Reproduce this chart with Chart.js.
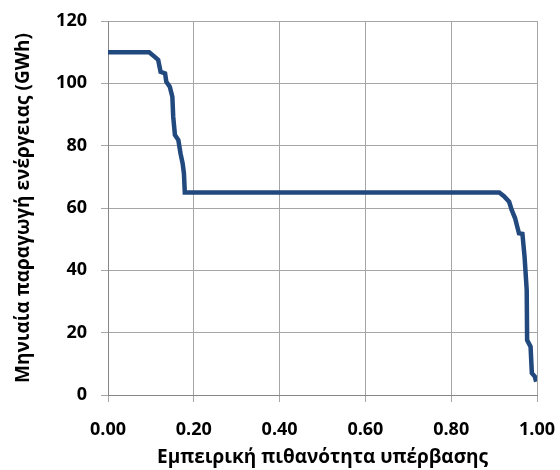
<!DOCTYPE html>
<html>
<head>
<meta charset="utf-8">
<script src="https://cdn.jsdelivr.net/npm/chart.js@4.4.0/dist/chart.umd.min.js"></script>
<style>
    body { margin: 0; background: #fff; }
</style>
</head>
<body>
<canvas id="durationChart" width="560" height="470"></canvas>
<script>
// exceedance probability vs monthly energy
var prob = [0.00, 0.096, 0.109, 0.117, 0.1225, 0.133, 0.136, 0.144, 0.150, 0.152, 0.156, 0.164, 0.169, 0.174, 0.177, 0.179, 0.185,
            0.50, 0.912, 0.923, 0.935, 0.941, 0.949, 0.954, 0.958, 0.966, 0.971, 0.976, 0.977, 0.985, 0.988, 0.995, 0.998];
var energy = [110, 110, 108.5, 107.5, 103.7, 103.2, 100.5, 98.9, 95.7, 89.3, 83.4, 81.8, 77.5, 74.3, 71.1, 65, 65,
              65, 65, 63.8, 62, 59.4, 56.7, 54, 51.9, 51.7, 44.4, 33.7, 17.6, 15.5, 7, 5.9, 4.3];

var xTitle = 'Εμπειρική πιθανότητα υπέρβασης';
var yTitle = 'Μηνιαία παραγωγή ενέργειας (GWh)';

var points = [];
for (var i = 0; i < prob.length; i++) {
    points.push({ x: prob[i], y: energy[i] });
}

var fontFamily = '"Open Sans", "DejaVu Sans", sans-serif';
var gridColor = '#a6a6a6';

var ctx = document.getElementById('durationChart');
var durationChart = new Chart(ctx, {
    type: 'scatter',
    data: {
        datasets: [
            {
                data: points,
                showLine: true,
                borderColor: '#22497e',
                borderWidth: 4.5,
                pointRadius: 0,
                tension: 0,
                fill: false
            }
        ]
    },
    options: {
        responsive: false,
        animation: false,
        layout: {
            padding: { top: 21, right: 23, bottom: 0, left: 0 }
        },
        plugins: {
            legend: { display: false },
            tooltip: { enabled: false }
        },
        scales: {
            x: {
                type: 'linear',
                min: 0,
                max: 1,
                ticks: {
                    stepSize: 0.2,
                    color: '#000',
                    font: { family: fontFamily, size: 18, weight: 'bold' },
                    padding: 17,
                    maxRotation: 0,
                    callback: function (v) { return v.toFixed(2); }
                },
                grid: { color: gridColor, tickLength: 7 },
                border: { color: '#868686' },
                title: {
                    display: true,
                    text: xTitle,
                    color: '#000',
                    font: { family: fontFamily, size: 19, weight: 'bold' },
                    padding: { top: 2, bottom: 1 }
                },
                afterFit: function (axis) {
                    axis.height = 75;
                    axis.paddingLeft = 0;
                    axis.paddingRight = 0;
                }
            },
            y: {
                min: 0,
                max: 120,
                ticks: {
                    stepSize: 20,
                    color: '#000',
                    font: { family: fontFamily, size: 18, weight: 'bold' },
                    padding: 14
                },
                grid: { color: gridColor, tickLength: 7 },
                border: { color: '#868686' },
                title: {
                    display: true,
                    text: yTitle,
                    color: '#000',
                    font: { family: fontFamily, size: 19, weight: 'bold' },
                    padding: { top: 12, bottom: 0 }
                },
                afterFit: function (axis) {
                    axis.width = 108;
                    axis.paddingTop = 0;
                    axis.paddingBottom = 0;
                }
            }
        }
    }
});
</script>
</body>
</html>
